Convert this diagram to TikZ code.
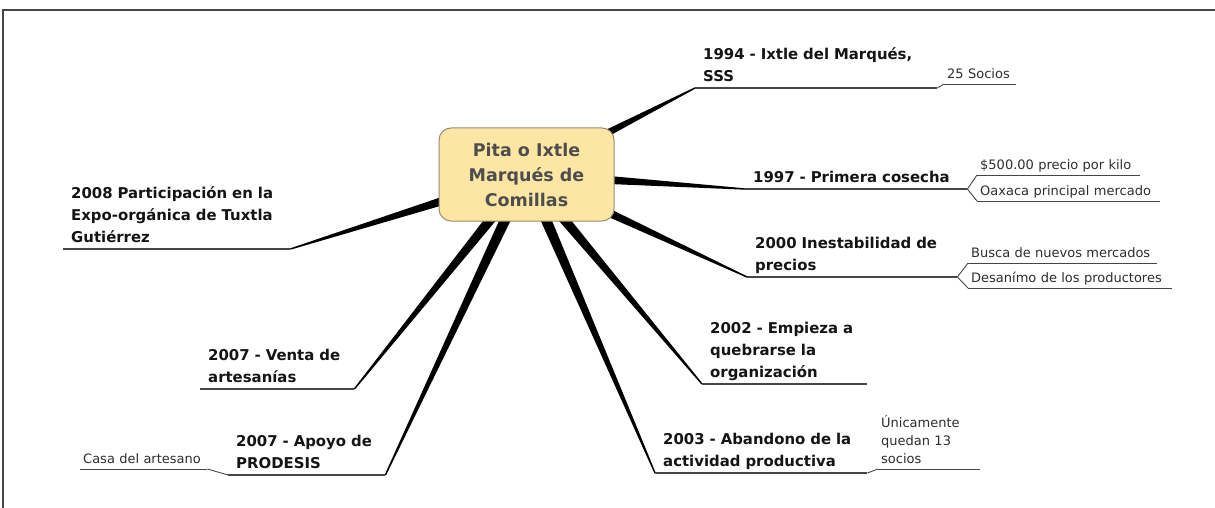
\documentclass[tikz,border=0pt]{standalone}
\usepackage{fontspec}
\setmainfont{DejaVu Sans}
\usetikzlibrary{calc}
\pgfdeclarelayer{bg}
\pgfsetlayers{bg,main}
\definecolor{rootfill}{RGB}{253,230,163}
\definecolor{rootdraw}{RGB}{150,140,112}
\definecolor{roottext}{RGB}{77,77,77}
\definecolor{topictext}{RGB}{20,20,20}
\definecolor{notetext}{RGB}{45,45,45}
\definecolor{linecol}{RGB}{70,70,70}

\begin{document}
\begin{tikzpicture}[x=1pt,y=-1pt]
\tikzset{root/.style = {rectangle, rounded corners=12pt, draw=rootdraw, line width=1pt, fill=rootfill, minimum width=175pt, minimum height=93pt, align=center, text=roottext, font=\bfseries\fontsize{17.5}{25}\selectfont}}
\tikzset{topic/.style = {anchor=south west, align=left, execute at end node=\strut, inner xsep=8pt, inner ysep=0pt, text=topictext, font=\bfseries\fontsize{14.9}{22}\selectfont}}
\tikzset{note/.style = {anchor=south west, align=left, execute at end node=\strut, inner xsep=3pt, inner ysep=0pt, text=notetext, font=\fontsize{13}{18}\selectfont}}
\tikzset{uline/.style = {draw=linecol, line width=1.3pt}}
\tikzset{nline/.style = {draw=linecol, line width=0.9pt}}
\tikzset{spoke/.style = {fill=black}}

   \useasboundingbox (0,0) rectangle (1215,508);
   \draw[line width=1.5pt, linecol] (3,508) -- (3,10) -- (1215,10);

   \node[root] (ctr) at (526.5,174.5) {Pita o Ixtle\\Marqués de\\Comillas};

   % right side
   \node[topic, text width=226pt] (t1) at (695,88) {1994 - Ixtle del Marqués,\\SSS};
   \node[note, text width=66pt] (s1) at (944,84) {25 Socios};

   \node[topic, text width=206pt] (t2) at (745,189) {1997 - Primera cosecha};
   \node[note, text width=157pt] (s2a) at (977,175) {\$500.00 precio por kilo};
   \node[note, text width=177pt] (s2b) at (977,201) {Oaxaca principal mercado};

   \node[topic, text width=194pt] (t3) at (747,277) {2000 Inestabilidad de\\precios};
   \node[note, text width=183pt] (s3a) at (968,263) {Busca de nuevos mercados};
   \node[note, text width=198pt] (s3b) at (968,288) {Desanímo de los productores};

   \node[topic, text width=149pt] (t4) at (702,384) {2002 - Empieza a\\quebrarse la\\organización};

   \node[topic, text width=196pt] (t5) at (655,473) {2003 - Abandono de la\\actividad productiva};
   \node[note, text width=96pt] (s5) at (878,469) {Únicamente\\quedan 13\\socios};

   % left side
   \node[topic, text width=141pt] (t6) at (228,475) {2007 - Apoyo de\\PRODESIS};
   \node[note, text width=121pt] (s6) at (80,469) {Casa del artesano};

   \node[topic, text width=138pt] (t7) at (200,389) {2007 - Venta de\\artesanías};

   \node[topic, text width=211pt] (t8) at (63,249) {2008 Participación en la\\Expo-orgánica de Tuxtla\\Gutiérrez};

   \foreach \t in {t1,t2,t3,t4,t5,t6,t7,t8}
     {\draw[uline] (\t.south west) -- (\t.south east);}
   \foreach \s in {s1,s2a,s2b,s3a,s3b,s5,s6}
     {\draw[nline] (\s.south west) -- (\s.south east);}

   \draw[nline] (t1.south east) -- (s1.south west);
   \draw[nline] (t2.south east) -- (s2a.south west);
   \draw[nline] (t2.south east) -- (s2b.south west);
   \draw[nline] (t3.south east) -- (s3a.south west);
   \draw[nline] (t3.south east) -- (s3b.south west);
   \draw[nline] (t5.south east) -- (s5.south west);
   \draw[nline] (t6.south west) -- (s6.south east);

   \begin{pgfonlayer}{bg}
   \foreach \e in {t1.south west,t2.south west,t3.south west,t4.south west,t5.south west,t6.south east,t7.south east,t8.south east}
     {\fill[spoke] ($(ctr.center)!6pt!90:(\e)$) -- ($(\e)!0.7pt!-90:(ctr.center)$)
        -- ($(\e)!0.7pt!90:(ctr.center)$) -- ($(ctr.center)!6pt!-90:(\e)$) -- cycle;}
   \end{pgfonlayer}

\end{tikzpicture}
\end{document}
